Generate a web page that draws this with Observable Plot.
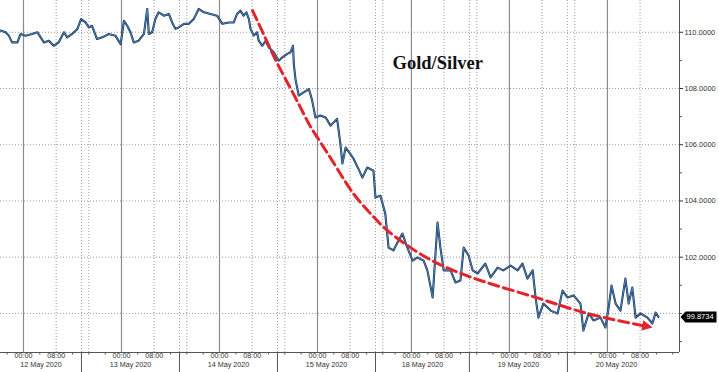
<!DOCTYPE html>
<html><head><meta charset="utf-8">
<script src="https://cdn.jsdelivr.net/npm/d3@7"></script>
<script src="https://cdn.jsdelivr.net/npm/@observablehq/plot@0.6"></script>
<style>html,body{margin:0;padding:0;background:#fff}#chart svg{display:block}</style>
</head><body><div id="chart"></div>
<script>
// x = trading hours since 12 May 2020 00:00 (weekend removed)
const hours = [-5.6,-4.4,-3.6,-2.8,-1.5,-0.7,0.5,2.1,3.4,4.2,
5.0,6.2,7.4,8.6,9.9,10.7,11.9,13.2,14.1,15.2,
16.0,16.8,18.0,19.3,20.9,22.5,23.8,24.6,25.4,26.2,
27.0,28.2,29.5,30.3,30.7,31.5,32.3,33.1,34.4,35.6,
36.4,37.2,38.0,39.3,40.5,41.7,42.9,44.2,45.8,47.4,
48.7,50.3,51.5,52.3,53.1,53.9,54.6,55.2,55.6,56.4,
57.2,57.6,58.5,59.3,60.1,61.3,62.5,63.4,64.6,65.4,
66.0,66.2,66.6,67.4,68.6,69.9,70.7,71.5,72.7,74.0,
75.2,76.8,77.6,78.1,78.9,79.8,80.8,82.0,83.0,84.2,
85.7,86.2,87.4,88.6,89.4,90.6,91.6,92.8,94.0,95.3,
96.5,98.0,98.9,100.2,100.9,101.4,102.1,102.9,104.6,105.8,
107.0,107.8,109.0,110.0,111.2,113.1,114.4,116.1,117.5,119.3,
121.0,122.2,123.4,124.7,125.4,126.1,127.3,129.1,130.8,132.0,
133.2,134.7,136.4,137.1,138.4,139.6,141.3,142.5,143.3,144.0,
145.0,146.2,147.4,148.2,149.1,149.9,151.1,152.8,154.0,154.8,
155.5];
const ratio = [110.06,110.00,109.88,109.64,109.64,109.94,109.88,109.94,110.00,109.82,
109.64,109.70,109.52,109.64,110.00,109.82,109.94,110.12,110.47,110.35,
110.17,110.23,109.76,109.82,109.94,109.88,109.58,110.41,110.23,110.00,
109.64,109.70,109.94,110.83,109.94,110.00,110.47,110.71,110.59,110.65,
110.35,110.12,110.17,110.30,110.30,110.47,110.83,110.71,110.65,110.59,
110.30,110.35,110.35,110.65,110.77,110.59,110.71,110.47,110.12,109.88,
110.00,109.70,109.52,109.70,109.46,109.29,108.99,109.11,109.23,109.29,
109.52,108.87,108.34,107.75,107.86,107.98,107.57,106.97,107.04,106.97,
106.68,106.92,106.04,105.33,105.90,105.72,105.51,105.15,104.83,105.19,
105.08,104.12,104.19,103.55,102.34,102.24,102.52,102.84,102.34,101.88,
101.99,101.88,101.53,100.57,102.13,103.23,102.34,101.53,101.53,101.10,
101.17,102.34,102.06,101.53,101.42,101.77,101.28,101.63,101.53,101.70,
101.53,101.77,101.24,101.53,100.57,99.85,100.35,100.10,100.00,100.81,
100.57,100.64,100.35,99.39,100.00,99.75,99.85,99.50,100.21,100.99,
100.35,100.10,101.24,100.35,100.92,99.85,100.00,99.85,99.64,100.03,
99.8734];

// red dashed trend arrow
const trendHours = [56.1,59.3,62.2,66.1,69.5,72.0,76.4,80.8,85.0,89.1,94.8,101.4,111.9,125.4,138.1,153.0];
const trendRatio = [110.77,109.77,108.88,107.81,106.85,106.25,105.25,104.26,103.55,102.95,102.34,101.78,101.17,100.57,100.00,99.53];

// axes / grid
const xDomain = [-5.63, 160.65];
const yDomain = [98.61, 111.13];
const midnightHours = [0,24,48,72,95,119,143];
const dottedHours = [8,16,32,40,56,64,80,88,103,111,127,135,151];
const sessionHours = [14.2,38.2,62.2,86.2,109.2,133.2];
const xMinorTicks = [-4,4,12,16,20,28,36,40,44,52,60,64,68,76,84,88,91,99,107,111,115,123,131,135,139,147,155,159];
const timeTickHours = [0,8,24,32,48,56,72,80,95,103,119,127,143,151];
const timeTickLabels = ["00:00","08:00","00:00","08:00","00:00","08:00","00:00","08:00","00:00","08:00","00:00","08:00","00:00","08:00"];
const dateHours = [4.3,26.2,50.2,74.2,97.7,121.2,145.2];
const dateLabels = ["12 May 2020","13 May 2020","14 May 2020","15 May 2020","18 May 2020","19 May 2020","20 May 2020"];
const yGrid = [100,102,104,106,108,110];
const yLabelTicks = [102,104,106,108,110];
const yMinorTicks = [99,100,101,103,105,107,109];
const title = "Gold/Silver";

const series = hours.map((t, i) => ({t, v: ratio[i]}));
const trend = trendHours.map((t, i) => ({t, v: trendRatio[i]}));
const last = series[series.length - 1];
const RED = "#e3242b";

const labelShape = {draw(ctx) {
  ctx.moveTo(0, 0); ctx.lineTo(5, -5.5); ctx.lineTo(36, -5.5);
  ctx.lineTo(36, 5.5); ctx.lineTo(5, 5.5); ctx.closePath();
}};

const plot = Plot.plot({
  width: 719, height: 372,
  marginLeft: 0, marginRight: 40, marginTop: 0, marginBottom: 20,
  x: {domain: xDomain, label: null},
  y: {domain: yDomain, label: null},
  style: {fontFamily: "Liberation Sans, Arial, sans-serif", fontSize: "7.5px", background: "#fff", overflow: "visible"},
  marks: [
    Plot.ruleY(yGrid, {stroke: "#9a9a9a", strokeDasharray: "1,2"}),
    Plot.ruleX(dottedHours, {stroke: "#9a9a9a", strokeDasharray: "1,2"}),
    Plot.ruleX(sessionHours, {stroke: "#9a9a9a", strokeDasharray: "1,2"}),
    Plot.ruleX(midnightHours, {stroke: "#8c8c8c", strokeWidth: 1.2}),
    Plot.ruleX(sessionHours, {stroke: "#555", insetTop: 352, insetBottom: -20}),
    Plot.ruleX([xDomain[1]], {stroke: "#555"}),
    Plot.ruleY([yDomain[0]], {stroke: "#555"}),
    Plot.axisX({ticks: xMinorTicks, tickSize: 2.5, tickFormat: () => "", stroke: "#555", label: null}),
    Plot.axisY({anchor: "right", ticks: yLabelTicks, tickSize: 3, tickPadding: 2, tickFormat: d3.format(".4f"), color: "#333", fontSize: 7.5, label: null}),
    Plot.axisY({anchor: "right", ticks: yMinorTicks, tickSize: 2, tickFormat: () => "", color: "#555", label: null}),
    Plot.text(timeTickHours, {x: d => d, text: (d, i) => timeTickLabels[i], frameAnchor: "bottom", dy: 5.6, fill: "#333", fontSize: 7.2}),
    Plot.text(dateHours, {x: d => d, text: (d, i) => dateLabels[i], frameAnchor: "bottom", dy: 14.4, fill: "#333", fontSize: 7.2}),
    Plot.line(series, {x: "t", y: "v", stroke: "#1c2f48", strokeWidth: 2.1}),
    Plot.line(series, {x: "t", y: "v", stroke: "#4a8fd4", strokeWidth: 0.9}),
    Plot.line(trend, {x: "t", y: "v", curve: "natural", stroke: RED, strokeWidth: 3, strokeDasharray: "10,5", markerEnd: "arrow"}),
    Plot.text([title], {frameAnchor: "top-left", dx: 392, dy: 55, textAnchor: "start", fontFamily: "Liberation Serif, Times New Roman, serif", fontWeight: "bold", fontSize: 18.5, fill: "#111"}),
    Plot.dot([last], {x: () => xDomain[1], y: "v", symbol: labelShape, fill: "#000", stroke: "none", dx: 1}),
    Plot.text([last], {x: () => xDomain[1], y: "v", text: d => d.v.toFixed(4), dx: 7, textAnchor: "start", fill: "#fff", fontSize: 7.5})
  ]
});

plot.querySelectorAll("marker").forEach(m => {
  m.setAttribute("fill", RED);
  m.setAttribute("stroke", "none");
  m.setAttribute("stroke-dasharray", "none");
  const p = m.querySelector("path");
  if (p) {
    p.setAttribute("d", "M-3,-2.6L2.2,0L-3,2.6Z");
    p.setAttribute("stroke", "none");
    p.setAttribute("fill", RED);
    p.setAttribute("stroke-dasharray", "none");
  }
});

document.getElementById("chart").appendChild(plot);
</script>
</body></html>
